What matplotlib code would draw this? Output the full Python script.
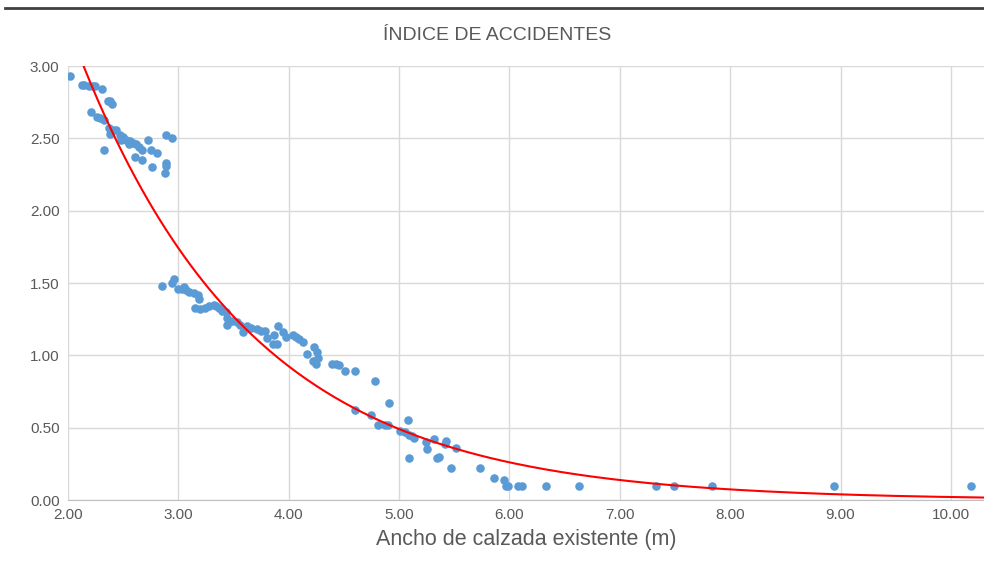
import matplotlib
matplotlib.use("Agg")
import matplotlib.pyplot as plt
from matplotlib.lines import Line2D
import numpy as np

plt.rcParams['font.family'] = ['Liberation Sans', 'DejaVu Sans']

# datos (ancho de calzada, indice)
ancho_sup = [2.02, 2.13, 2.15, 2.19, 2.23, 2.25, 2.31, 2.36, 2.38, 2.40,
             2.21, 2.26, 2.29, 2.33, 2.33, 2.37, 2.41, 2.44, 2.38, 2.47,
             2.50, 2.53, 2.56, 2.59, 2.62, 2.64, 2.67, 2.73, 2.75, 2.81,
             2.61, 2.67, 2.76, 2.89, 2.94, 2.89, 2.89, 2.88, 2.48, 2.55]
indice_sup = [2.93, 2.87, 2.87, 2.86, 2.86, 2.86, 2.84, 2.76, 2.76, 2.74,
              2.68, 2.65, 2.64, 2.63, 2.42, 2.57, 2.56, 2.56, 2.53, 2.52,
              2.51, 2.49, 2.48, 2.47, 2.46, 2.44, 2.42, 2.49, 2.42, 2.40,
              2.37, 2.35, 2.30, 2.52, 2.50, 2.33, 2.31, 2.26, 2.49, 2.46]

ancho_med = [2.85, 2.94, 2.96, 3.00, 3.03, 3.05, 3.07, 3.10, 3.14, 3.18,
             3.19, 3.15, 3.20, 3.24, 3.28, 3.32, 3.34, 3.37, 3.40, 3.43,
             3.44, 3.44, 3.49, 3.53, 3.56, 3.59, 3.62, 3.66, 3.71, 3.75,
             3.79, 3.80, 3.86, 3.89, 3.87, 3.90, 3.95, 3.98, 4.04, 4.07,
             4.13, 4.17, 4.23, 4.26, 4.27, 4.25, 4.39, 4.43, 4.46, 4.51,
             4.60, 4.09, 4.22]
indice_med = [1.48, 1.50, 1.53, 1.46, 1.46, 1.47, 1.45, 1.44, 1.43, 1.42,
              1.39, 1.33, 1.32, 1.33, 1.34, 1.35, 1.34, 1.33, 1.31, 1.30,
              1.26, 1.21, 1.24, 1.23, 1.21, 1.16, 1.20, 1.19, 1.18, 1.17,
              1.17, 1.12, 1.08, 1.08, 1.14, 1.20, 1.16, 1.13, 1.14, 1.13,
              1.09, 1.01, 1.06, 1.02, 0.98, 0.94, 0.94, 0.94, 0.93, 0.89,
              0.89, 1.11, 0.96]

ancho_inf = [4.78, 4.91, 4.60, 4.75, 4.81, 4.87, 4.90, 5.08, 5.01, 5.05,
             5.09, 5.12, 5.14, 5.09, 5.24, 5.25, 5.32, 5.34, 5.36, 5.43,
             5.42, 5.52, 5.47, 5.73, 5.86, 5.95, 5.97, 5.99, 6.08, 6.11,
             6.33, 6.63, 7.33, 7.49, 7.84, 8.94, 10.18]
indice_inf = [0.82, 0.67, 0.62, 0.59, 0.52, 0.52, 0.52, 0.55, 0.48, 0.47,
              0.45, 0.44, 0.43, 0.29, 0.40, 0.35, 0.42, 0.29, 0.30, 0.41,
              0.39, 0.36, 0.22, 0.22, 0.15, 0.14, 0.10, 0.10, 0.10, 0.10,
              0.10, 0.10, 0.10, 0.10, 0.10, 0.10, 0.10]

x_ticks = [2, 3, 4, 5, 6, 7, 8, 9, 10]
y_ticks = [0, 0.5, 1.0, 1.5, 2.0, 2.5, 3.0]

ancho = np.array(ancho_sup + ancho_med + ancho_inf)
indice = np.array(indice_sup + indice_med + indice_inf)

# linea de tendencia exponencial (como en Excel: ajuste de ln(y))
b, ln_a = np.polyfit(ancho, np.log(indice), 1)
xt = np.linspace(2.0, 10.3, 300)
yt = np.exp(ln_a) * np.exp(b * xt)

gris = '#595959'
fig = plt.figure(figsize=(9.84, 5.71), dpi=100)
ax = fig.add_axes([0.069, 0.1243, 0.931, 0.7601])

ax.scatter(ancho, indice, s=38, color='#5B9BD5', zorder=3, linewidths=0)
ax.plot(xt, yt, color='red', lw=1.5, zorder=4)

ax.set_xlim(2.0, 10.3)
ax.set_ylim(0, 3.0)
ax.set_xticks(x_ticks)
ax.set_yticks(y_ticks)
ax.set_xticklabels(['%.2f' % v for v in x_ticks])
ax.set_yticklabels(['%.2f' % v for v in y_ticks])
ax.grid(True, color='#D9D9D9', lw=1)
ax.set_axisbelow(True)
for s in ['top', 'right', 'left']:
    ax.spines[s].set_visible(False)
ax.spines['bottom'].set_color('#BFBFBF')
ax.tick_params(length=0, labelsize=11, labelcolor=gris, pad=6)

ax.set_xlabel('Ancho de calzada existente (m)', fontsize=15.5, color=gris, labelpad=5)
fig.text(0.505, 0.937, 'ÍNDICE DE ACCIDENTES', ha='center', va='center', fontsize=14, color=gris)

fig.add_artist(Line2D([0.005, 1.0], [0.986, 0.986], color='#404040', lw=2))

fig.savefig('out.png', dpi=100)
